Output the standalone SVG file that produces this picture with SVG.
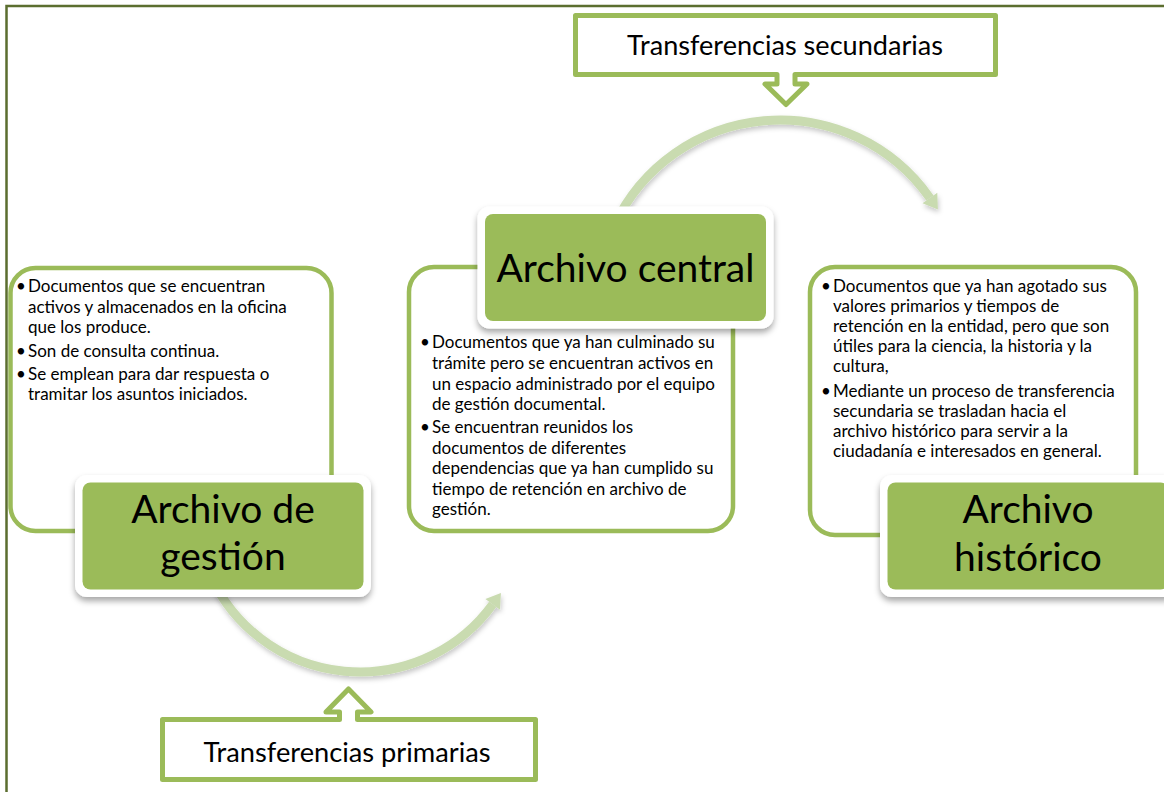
<svg xmlns="http://www.w3.org/2000/svg" width="1164" height="792" viewBox="0 0 1164 792">
<defs>
<style>
.border{fill:none;stroke:#5b6e2f;stroke-width:2.5}
.tbox{fill:#fff;stroke:#9bbb59;stroke-width:4.5}
.frame{fill:#fff;filter:url(#sh)}
.tfill{fill:#9bbb59}
.ttl{font-family:Lato,'Liberation Sans',sans-serif;font-size:39px;fill:#000;text-anchor:middle}
.bl{font-family:Lato,'Liberation Sans',sans-serif;font-size:17px;fill:#000}
.arc{fill:none;stroke:#c9dbb0;stroke-width:9}
.head{fill:#c9dbb0}
.callout{fill:#fff;stroke:#9bbb59;stroke-width:5;stroke-linejoin:round}
.lbl{font-family:Lato,'Liberation Sans',sans-serif;font-size:26px;fill:#000;text-anchor:middle}
</style>
<filter id="sh" x="-10%" y="-10%" width="120%" height="135%"><feDropShadow dx="0" dy="4" stdDeviation="3" flood-color="#000" flood-opacity="0.35"/></filter>
<filter id="ash" x="-10%" y="-10%" width="120%" height="130%"><feDropShadow dx="1" dy="3" stdDeviation="2.5" flood-color="#000" flood-opacity="0.22"/></filter>
</defs>
<rect width="1164" height="792" fill="#fff"/>
<path class="border" d="M6.5,792 V6 H1164"/>
<g id="connectors">
<g filter="url(#ash)">
<path class="arc" d="M614.1,225.7 A183,183 0 0 1 929.9,198.0"/>
<polygon class="head" points="937.3,192.8 937.9,209.5 922.5,203.2"/>
</g>
<g filter="url(#ash)">
<path class="arc" d="M211.4,577.3 A164,164 0 0 0 492.7,604.4"/>
<polygon class="head" points="485.4,599.1 500.9,593.1 500,609.7"/>
</g>
</g>
<g id="transfer-secundarias">
<path class="callout" d="M575.5,15.5 H995.5 V74.5 H795 V84 H807 L786,104.5 L765,84 H777 V74.5 H575.5 Z"/>
<text class="lbl" x="785" y="55" textLength="316" lengthAdjust="spacingAndGlyphs">Transferencias secundarias</text>
</g>
<g id="transfer-primarias">
<path class="callout" d="M162.5,719.5 H339.5 V712 H326 L348.5,689 L371,712 H357.5 V719.5 H535.5 V779.5 H162.5 Z"/>
<text class="lbl" x="347" y="762" textLength="287" lengthAdjust="spacingAndGlyphs">Transferencias primarias</text>
</g>
<g id="archivo-gestion">
<rect class="tbox" x="10.5" y="268" width="321" height="263" rx="25"/>
<text class="bl"><tspan x="16" y="292">•</tspan><tspan x="28" y="292">Documentos que se encuentran</tspan><tspan x="28" y="313">activos y almacenados en la oficina</tspan><tspan x="28" y="333">que los produce.</tspan><tspan x="16" y="357">•</tspan><tspan x="28" y="357">Son de consulta continua.</tspan><tspan x="16" y="380">•</tspan><tspan x="28" y="380">Se emplean para dar respuesta o</tspan><tspan x="28" y="400">tramitar los asuntos iniciados.</tspan></text>
<rect class="frame" x="75" y="475" width="296" height="122" rx="12"/>
<rect class="tfill" x="82.5" y="482.5" width="281" height="107" rx="8"/>
<text class="ttl" x="223" y="523">Archivo de</text>
<text class="ttl" x="223" y="570">gestión</text>
</g>
<g id="archivo-central">
<rect class="tbox" x="409" y="267" width="324" height="264" rx="25"/>
<text class="bl"><tspan x="420" y="348">•</tspan><tspan x="432" y="348">Documentos que ya han culminado su</tspan><tspan x="432" y="369">trámite pero se encuentran activos en</tspan><tspan x="432" y="390">un espacio administrado por el equipo</tspan><tspan x="432" y="410">de gestión documental.</tspan><tspan x="420" y="433">•</tspan><tspan x="432" y="433">Se encuentran reunidos los</tspan><tspan x="432" y="454">documentos de diferentes</tspan><tspan x="432" y="474">dependencias que ya han cumplido su</tspan><tspan x="432" y="495">tiempo de retención en archivo de</tspan><tspan x="432" y="515">gestión.</tspan></text>
<rect class="frame" x="477.5" y="206.5" width="296" height="122" rx="12"/>
<rect class="tfill" x="485" y="214" width="281" height="107" rx="8"/>
<text class="ttl" x="625.5" y="282">Archivo central</text>
</g>
<g id="archivo-historico">
<rect class="tbox" x="810" y="267" width="326" height="268" rx="25"/>
<text class="bl"><tspan x="821" y="292">•</tspan><tspan x="833" y="292">Documentos que ya han agotado sus</tspan><tspan x="833" y="312">valores primarios y tiempos de</tspan><tspan x="833" y="332">retención en la entidad, pero que son</tspan><tspan x="833" y="352">útiles para la ciencia, la historia y la</tspan><tspan x="833" y="372">cultura,</tspan><tspan x="821" y="397">•</tspan><tspan x="833" y="397">Mediante un proceso de transferencia</tspan><tspan x="833" y="417">secundaria se trasladan hacia el</tspan><tspan x="833" y="437">archivo histórico para servir a la</tspan><tspan x="833" y="457">ciudadanía e interesados en general.</tspan></text>
<rect class="frame" x="880" y="475" width="296" height="122" rx="12"/>
<rect class="tfill" x="887.5" y="482.5" width="281" height="107" rx="8"/>
<text class="ttl" x="1028" y="523">Archivo</text>
<text class="ttl" x="1028" y="571">histórico</text>
</g>
</svg>
